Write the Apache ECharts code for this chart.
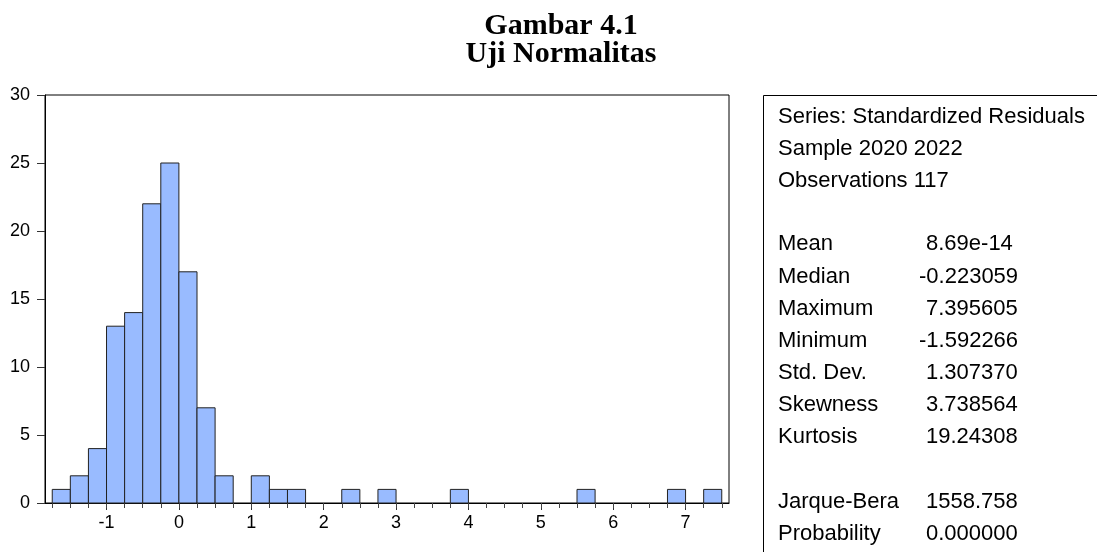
<!DOCTYPE html>
<html>
<head>
<meta charset="utf-8">
<script src="https://cdn.jsdelivr.net/npm/echarts@6/dist/echarts.min.js"></script>
<style>
  html, body { margin: 0; padding: 0; background: #fff; }
  #chart { width: 1097px; height: 552px; }
</style>
</head>
<body>
<div id="chart"></div>
<script>
// histogram bins (width 0.25), only non-empty bins listed
var binLeft = [-1.75, -1.5, -1.25, -1, -0.75, -0.5, -0.25, 0, 0.25, 0.5, 1, 1.25, 1.5, 2.25, 2.75, 3.75, 5.5, 6.75, 7.25];
var binCount = [1, 2, 4, 13, 14, 22, 25, 17, 7, 2, 2, 1, 1, 1, 1, 1, 1, 1, 1];
var binWidth = 0.25;

var xMajorTicks = [-1, 0, 1, 2, 3, 4, 5, 6, 7];
var xMinorTicks = [];
for (var t = -1.75; t <= 7.5; t += 0.25) xMinorTicks.push(t);

var titleLines = ['Gambar 4.1', 'Uji Normalitas'];
var headerLines = ['Series: Standardized Residuals', 'Sample 2020 2022', 'Observations 117'];
var statNames = ['Mean', 'Median', 'Maximum', 'Minimum', 'Std. Dev.', 'Skewness', 'Kurtosis'];
var statValues = ['8.69e-14', '-0.223059', '7.395605', '-1.592266', '1.307370', '3.738564', '19.24308'];
var testNames = ['Jarque-Bera', 'Probability'];
var testValues = ['1558.758', '0.000000'];

var barData = binLeft.map(function (x, i) {
  return [x, x + binWidth, binCount[i]];
});

var sansFont = '"Liberation Sans", Arial, sans-serif';

// title + statistics panel on the right
var graphics = [];
titleLines.forEach(function (s, i) {
  graphics.push({
    type: 'text',
    style: {
      text: s, x: 561, y: 26 + i * 28.5,
      font: 'bold 30px "Liberation Serif", "Times New Roman", serif',
      fill: '#000', textAlign: 'center', textVerticalAlign: 'middle'
    }
  });
});
graphics.push({
  type: 'rect',
  shape: { x: 763.5, y: 95.5, width: 400, height: 500 },
  style: { fill: 'none', stroke: '#000', lineWidth: 1 }
});
function addRow(name, value, y) {
  graphics.push({
    type: 'text',
    style: { text: name, x: 778, y: y, font: '22px ' + sansFont, fill: '#000',
             textAlign: 'left', textVerticalAlign: 'middle' }
  });
  if (value !== null) {
    graphics.push({
      type: 'text',
      style: { text: value, x: value.charAt(0) === '-' ? 919 : 926, y: y,
               font: '22px ' + sansFont, fill: '#000',
               textAlign: 'left', textVerticalAlign: 'middle' }
    });
  }
}
var rowGap = 32.1;
headerLines.forEach(function (s, i) { addRow(s, null, 116.7 + i * rowGap); });
statNames.forEach(function (s, i) { addRow(s, statValues[i], 244.4 + i * rowGap); });
testNames.forEach(function (s, i) { addRow(s, testValues[i], 501.7 + i * rowGap); });

var chart = echarts.init(document.getElementById('chart'));
chart.setOption({
  animation: false,
  backgroundColor: '#fff',
  grid: {
    left: 45, top: 95, right: 368, bottom: 49,
    show: true, borderColor: '#000', borderWidth: 1, backgroundColor: 'transparent'
  },
  xAxis: [{
    type: 'value', min: -1.85, max: 7.6,
    axisLine: { show: true, onZero: false, lineStyle: { color: '#000', width: 1 } },
    axisTick: { show: true, inside: false, length: 7, customValues: xMajorTicks,
                lineStyle: { color: '#333', width: 1 } },
    axisLabel: { show: true, customValues: xMajorTicks, margin: 11,
                 fontSize: 18, fontFamily: sansFont, color: '#000' },
    splitLine: { show: false }
  }, {
    type: 'value', min: -1.85, max: 7.6, position: 'bottom',
    axisLine: { show: false, onZero: false },
    axisTick: { show: true, inside: false, length: 5, customValues: xMinorTicks,
                lineStyle: { color: '#444', width: 1 } },
    axisLabel: { show: false },
    splitLine: { show: false }
  }],
  yAxis: {
    type: 'value', min: 0, max: 30, interval: 5,
    axisLine: { show: true, onZero: false, lineStyle: { color: '#000', width: 1 } },
    axisTick: { show: true, inside: false, length: 8, lineStyle: { color: '#333' } },
    axisLabel: { margin: 15, fontSize: 18, fontFamily: sansFont, color: '#000',
                 padding: [0, 0, 7, 0] },
    splitLine: { show: false }
  },
  series: [{
    type: 'custom',
    xAxisIndex: 0,
    data: barData,
    encode: { x: [0, 1], y: 2 },
    renderItem: function (params, api) {
      var p0 = api.coord([api.value(0), 0]);
      var p1 = api.coord([api.value(1), api.value(2)]);
      return {
        type: 'rect',
        shape: { x: p0[0], y: p1[1], width: p1[0] - p0[0], height: p0[1] - p1[1] },
        style: { fill: '#99BBFF', stroke: '#222', lineWidth: 1 }
      };
    }
  }],
  graphic: graphics
});
</script>
</body>
</html>
